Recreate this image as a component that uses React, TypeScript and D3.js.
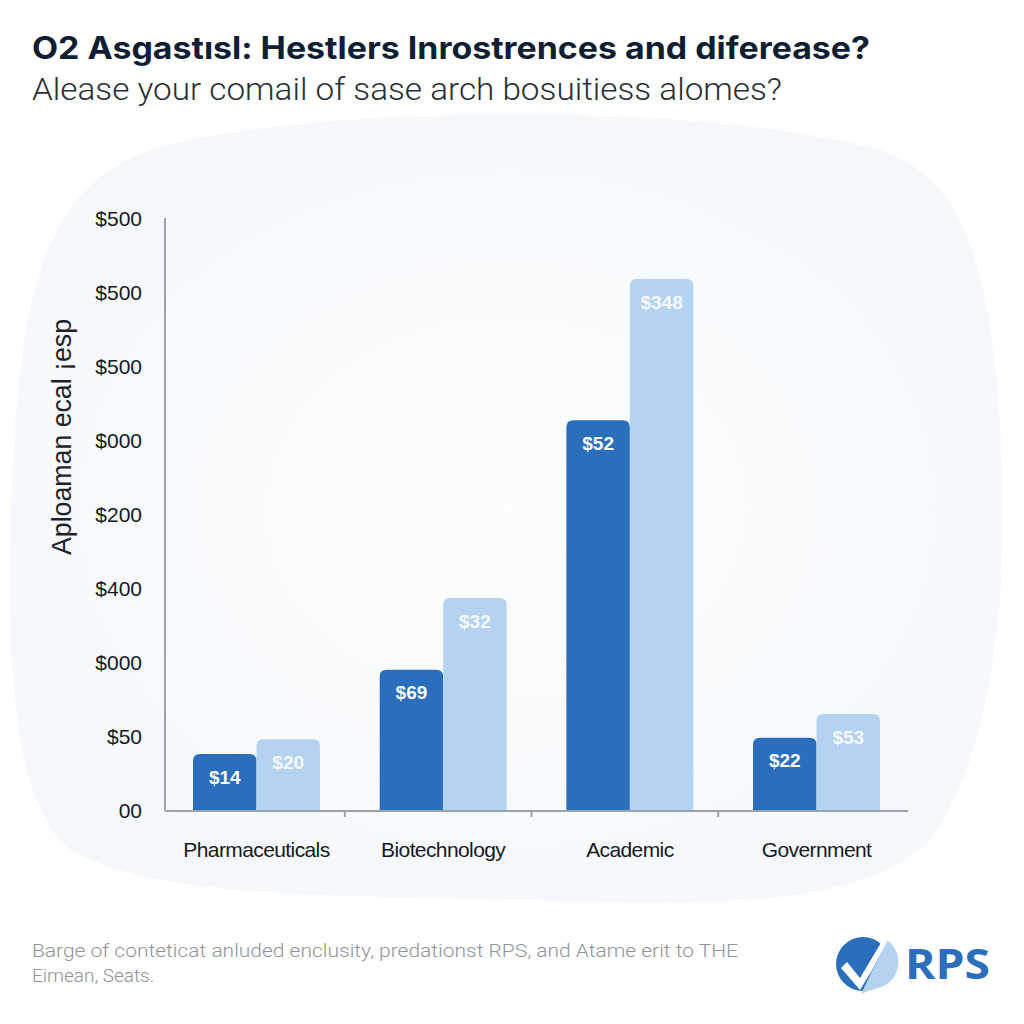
import React from "react";
import * as d3 from "d3";

const categories = ["Pharmaceuticals", "Biotechnology", "Academic", "Government"];
const seriesNames = ["Series A", "Series B"];
const seriesA = [77, 191, 528, 99];
const seriesB = [97, 288, 719, 131];
const labelsA = ["$14", "$69", "$52", "$22"];
const labelsB = ["$20", "$32", "$348", "$53"];
const tickValues = [0, 100, 200, 300, 400, 500, 600, 700, 800];
const tickLabels = ["00", "$50", "$000", "$400", "$200", "$000", "$500", "$500", "$500"];

const title = "O2 Asgastısl: Hestlers Inrostrences and diferease?";
const subtitle = "Alease your comail  of sase arch bosuitiess alomes?";
const yTitle = "Aploaman ecal ¡esp";
const footer1 = "Barge of conteticat anluded enclusity, predationst RPS, and Atame erit to THE";
const footer2 = "Eimean, Seats.";

const colors = ["#2a6ebc", "#b4d3f0"];

function topRoundedRect(x: number, y: number, w: number, h: number, r: number) {
  const rr = Math.min(r, h, w / 2);
  return `M${x},${y + h} L${x},${y + rr} Q${x},${y} ${x + rr},${y} L${x + w - rr},${y} Q${x + w},${y} ${x + w},${y + rr} L${x + w},${y + h} Z`;
}

export default function App() {
  const left = 165, right = 908, top = 219, bottom = 811;
  const x = d3.scaleBand<string>().domain(categories).range([left, right]).paddingInner(0.32).paddingOuter(0.15);
  const xi = d3.scaleBand<string>().domain(seriesNames).range([0, x.bandwidth()]);
  const y = d3.scaleLinear().domain([0, 800]).range([bottom, top]);
  const series = [seriesA, seriesB];
  const labels = [labelsA, labelsB];
  const step = x.step();

  const blob = "M150,150 C300,105 700,100 880,150 C960,175 990,260 1000,420 C1012,600 990,760 930,840 C860,910 700,905 520,900 C340,895 160,900 70,850 C10,800 5,650 12,480 C20,300 40,190 150,150 Z";

  return (
    <svg width={1024} height={1024} style={{ position: "absolute", left: 0, top: 0, background: "#ffffff" }}>
      <defs>
        <radialGradient id="bg" cx="50%" cy="50%" r="60%">
          <stop offset="0%" stopColor="#fcfdfe" />
          <stop offset="100%" stopColor="#f5f8fb" />
        </radialGradient>
      </defs>
      <rect width={1024} height={1024} fill="#ffffff" />
      <path d={blob} fill="url(#bg)" />

      <text x={32} y={59} fontFamily="Inter, 'Open Sans', sans-serif" fontWeight={700} fontSize={31} fill="#0f1e33" textLength={838} lengthAdjust="spacingAndGlyphs">{title}</text>
      <text x={32} y={100} fontFamily="Roboto, 'Open Sans', sans-serif" fontWeight={300} fontSize={31} fill="#2a2f36" textLength={750} lengthAdjust="spacingAndGlyphs">{subtitle}</text>

      <text transform={`translate(71,437) rotate(-90)`} textAnchor="middle" fontFamily="'Liberation Sans', Arial, sans-serif" fontSize={27} fill="#1f2329" textLength={236} lengthAdjust="spacingAndGlyphs">{yTitle}</text>

      {tickValues.map((v, i) => (
        <text key={i} x={142} y={y(v)} dy="0.35em" textAnchor="end" fontFamily="'Liberation Sans', Arial, sans-serif" fontSize={21} fill="#15191f">{tickLabels[i]}</text>
      ))}

      {categories.map((c, ci) => (
        <g key={c} transform={`translate(${x(c)},0)`}>
          {seriesNames.map((s, si) => {
            const v = series[si][ci];
            const bx = xi(s)!;
            const by = y(v);
            return (
              <g key={s}>
                <path d={topRoundedRect(bx, by, xi.bandwidth(), bottom - by, 7)} fill={colors[si]} />
                <text x={bx + xi.bandwidth() / 2} y={by + 23} dy="0.35em" textAnchor="middle" fontFamily="'Liberation Sans', Arial, sans-serif" fontWeight={700} fontSize={19} fill="#ffffff" fillOpacity={si === 0 ? 1 : 0.9}>{labels[si][ci]}</text>
              </g>
            );
          })}
        </g>
      ))}

      <line x1={left} x2={left} y1={top - 1} y2={bottom} stroke="#9aa3ad" strokeWidth={2} />
      <line x1={left} x2={right} y1={bottom} y2={bottom} stroke="#9aa3ad" strokeWidth={2} />
      {categories.slice(1).map((c) => {
        const tx = x(c)! - (step - x.bandwidth()) / 2 - 5;
        return <line key={c} x1={tx} x2={tx} y1={bottom} y2={bottom + 6} stroke="#9aa3ad" strokeWidth={2} />;
      })}

      {categories.map((c) => (
        <text key={c} x={x(c)! + x.bandwidth() / 2} y={850} dy="0.35em" textAnchor="middle" fontFamily="'Liberation Sans', Arial, sans-serif" fontSize={21} fill="#15191f" letterSpacing={-0.6}>{c}</text>
      ))}

      <text x={32} y={957} fontFamily="Roboto, 'Liberation Sans', sans-serif" fontWeight={300} fontSize={19} fill="#8f949a" textLength={706} lengthAdjust="spacingAndGlyphs">{footer1}</text>
      <text x={32} y={982} fontFamily="Roboto, 'Liberation Sans', sans-serif" fontWeight={300} fontSize={19} fill="#8f949a">{footer2}</text>

      <g transform="translate(863,964)">
        <circle r={27} fill="#2a6ebc" />
        <path d="M-2,30 L24,-24 A27,27 0 0,1 10,25 Z" fill="#b4d3f0" />
        <path d="M-16,-2 L-3,14 L22,-28 L28,-30 L8,8 L-3,26 L-22,4 Z" fill="#ffffff" />
      </g>
      <text x={905} y={979} fontFamily="'Open Sans', Inter, sans-serif" fontWeight={700} fontSize={42} fill="#2a6ebc" textLength={85} lengthAdjust="spacingAndGlyphs">RPS</text>
    </svg>
  );
}
